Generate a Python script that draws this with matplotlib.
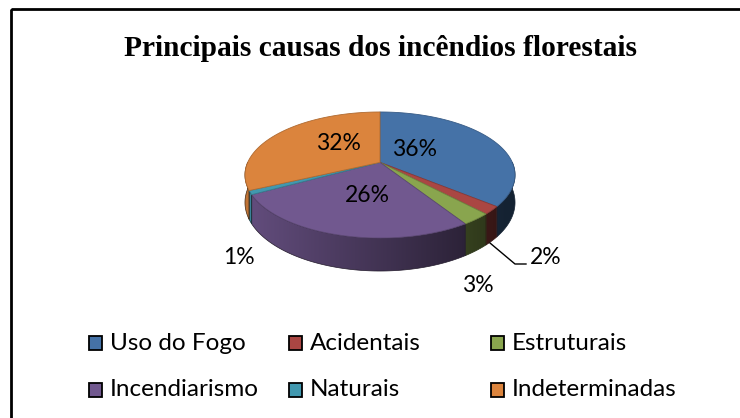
import numpy as np
import matplotlib

matplotlib.use("Agg")
import matplotlib.pyplot as plt
from matplotlib.colors import to_rgb
from matplotlib.patches import Polygon, Rectangle

# ---- data ----
categories = ["Uso do Fogo", "Acidentais", "Estruturais",
              "Incendiarismo", "Naturais", "Indeterminadas"]
values = [36, 2, 3, 26, 1, 32]
labels = ["36%", "2%", "3%", "26%", "1%", "32%"]
colors = ["#4572A7", "#AA4643", "#89A54E", "#71588F", "#4198AF", "#DB843D"]

title = "Principais causas dos incêndios florestais"

# ---- geometry (pixel space) ----
W, H = 740, 418
CX, CY = 380, 162.4      # pie apex
RX, RY = 132.3, 60.5     # radii before perspective
PERSP = 0.2              # front of the pie looks bigger
DEPTH = 26.4
LABEL_POS = [(415, 150), (546, 258), (478, 285), (367, 195), (239, 257), (338, 144)]
FONT = ["Lato", "DejaVu Sans"]

fig = plt.figure(figsize=(W / 100, H / 100), dpi=100)
ax = fig.add_axes([0, 0, 1, 1])
ax.set_xlim(0, W)
ax.set_ylim(H, 0)
ax.axis("off")

# chart frame (right and bottom sides are cut off in the source)
ax.add_patch(Rectangle((11, 9), 760, 440, fill=False, ec="black", lw=2, zorder=1))

ax.text(CX, 48, title, ha="center", va="center", fontsize=21.2,
        fontweight="bold", family="Liberation Serif")


def proj(t):
    """point on the rim at angle t (deg), with a little perspective"""
    t = np.radians(t)
    s = 1.0 / (1.0 + PERSP * np.sin(t))
    return CX + RX * np.cos(t) * s, CY - RY * np.sin(t) * s, s


# slice angles, starting at 12 o'clock and going clockwise
fracs = np.array(values, dtype=float) / sum(values)
ends = 90 - 360 * np.cumsum(fracs)
starts = np.concatenate([[90], ends[:-1]])

# side walls: only the front half of the rim (-180..0 deg), shaded left -> right
for s, e, c in zip(starts, ends, colors):
    lo, hi = max(e, -180), min(s, 0)
    if hi <= lo:
        continue
    ts = np.linspace(hi, lo, max(int(hi - lo), 2) + 1)
    xs, ys, ss = proj(ts)
    outline = list(zip(xs, ys)) + list(zip(xs[::-1], (ys + DEPTH * ss)[::-1]))
    x0, x1 = xs.min() - 2, xs.max() + 2
    y0, y1 = ys.min() - 2, (ys + DEPTH * ss).max() + 2
    gx = np.linspace(x0, x1, 200)
    cosv = np.clip((gx - CX) / (RX * 1.02), -1, 1)
    k = np.clip(0.58 - 0.3 * cosv, 0.3, 1)
    img = np.clip(np.array(to_rgb(c))[None, None, :] * k[None, :, None], 0, 1)
    img = np.repeat(img, 2, axis=0)
    clip = Polygon(outline, closed=True, fc="none", ec="none")
    ax.add_patch(clip)
    im = ax.imshow(img, extent=(x0, x1, y1, y0), aspect="auto",
                   interpolation="bilinear", zorder=2)
    im.set_clip_path(clip)
    ax.add_patch(Polygon(outline, closed=True, fill=False,
                         ec=np.array(to_rgb(c)) * 0.3, lw=0.5, zorder=2.5))

# top faces
for s, e, c in zip(starts, ends, colors):
    ts = np.linspace(s, e, max(int(abs(s - e)), 2) + 1)
    xs, ys, _ = proj(ts)
    pts = [(CX, CY)] + list(zip(xs, ys))
    ax.add_patch(Polygon(pts, closed=True, fc=c, ec=np.array(to_rgb(c)) * 0.8,
                         lw=0.6, zorder=3))

ax.set_xlim(0, W)
ax.set_ylim(H, 0)

# percentage labels
for lab, (x, y) in zip(labels, LABEL_POS):
    ax.text(x, y, lab, ha="center", va="center", fontsize=16.5,
            family=FONT, zorder=5)

# leader line for the small red slice
ax.plot([490, 515, 526], [243, 264, 264], color="black", lw=1, zorder=4)

# legend, 3 columns x 2 rows
LEG_X = [89, 289, 491]
LEG_Y = [343, 390]
for i, (cat, c) in enumerate(zip(categories, colors)):
    x, y = LEG_X[i % 3], LEG_Y[i // 3]
    ax.add_patch(Rectangle((x, y - 7), 13, 14, fc=c, ec="black", lw=1.3, zorder=4))
    ax.text(x + 21, y, cat, ha="left", va="center", fontsize=17.5,
            family=FONT, zorder=5)

fig.savefig("out.png", dpi=100)
